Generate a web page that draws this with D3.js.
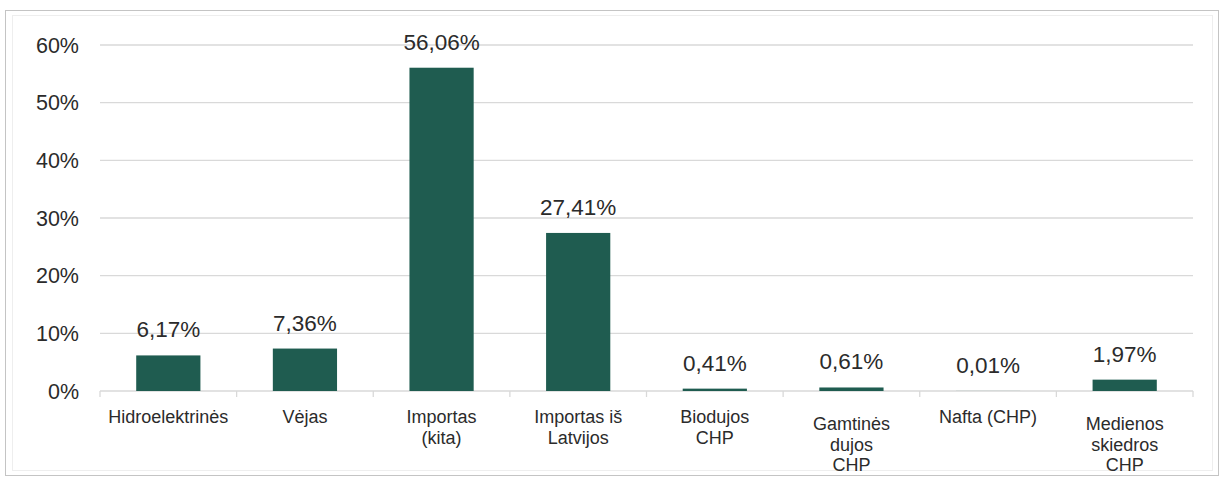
<!DOCTYPE html>
<html>
<head>
<meta charset="utf-8">
<script src="https://cdn.jsdelivr.net/npm/d3@7"></script>
<style>
  body { margin: 0; background: #fff; }
  svg { display: block; font-family: "Liberation Sans", Arial, sans-serif; }
</style>
</head>
<body>
<svg id="chart" width="1222" height="478"></svg>
<script>
// data
const categories = [
  ['Hidroelektrinės'],
  ['Vėjas'],
  ['Importas', '(kita)'],
  ['Importas iš', 'Latvijos'],
  ['Biodujos', 'CHP'],
  ['Gamtinės', 'dujos', 'CHP'],
  ['Nafta (CHP)'],
  ['Medienos', 'skiedros', 'CHP']
]
const shares = [6.17, 7.36, 56.06, 27.41, 0.41, 0.61, 0.01, 1.97]
const yTicks = [0, 10, 20, 30, 40, 50, 60]

const svg = d3.select('#chart')
const margin = {top: 45, right: 29, bottom: 87, left: 100}
const W = 1222, H = 478
const x0 = margin.left, x1 = W - margin.right
const yTop = margin.top, yBase = H - margin.bottom

const barColor = '#1f5c50'
const gridColor = '#d9d9d9'
const textColor = '#2b2b2b'

// frame round the chart
svg.append('rect')
  .attr('x', 5.5).attr('y', 10.5)
  .attr('width', 1213).attr('height', 465)
  .attr('fill', 'none').attr('stroke', '#c4c4c4')
svg.append('rect')
  .attr('x', 12.5).attr('y', 15.5)
  .attr('width', 1200).attr('height', 455)
  .attr('fill', 'none').attr('stroke', '#eeeeee')

const idx = d3.range(categories.length)
const xScale = d3.scaleBand().domain(idx).range([x0, x1]).paddingInner(0.53).paddingOuter(0.265)
const yScale = d3.scaleLinear().domain([0, 60]).range([yBase, yTop])
const xMid = i => xScale(i) + xScale.bandwidth() / 2

// gridlines
svg.append('g')
  .selectAll('line')
  .data(yTicks.filter(t => t > 0))
  .enter()
  .append('line')
    .attr('x1', x0).attr('x2', x1)
    .attr('y1', d => yScale(d)).attr('y2', d => yScale(d))
    .attr('stroke', gridColor).attr('stroke-width', 1.3)

// y axis labels
svg.append('g')
  .selectAll('text')
  .data(yTicks)
  .enter()
  .append('text')
    .attr('x', x0 - 21)
    .attr('y', d => yScale(d))
    .attr('dy', '0.35em')
    .attr('text-anchor', 'end')
    .style('font-size', '21.5px')
    .attr('fill', textColor)
    .text(d => d + '%')

// bottom axis line and ticks on band edges
svg.append('line')
  .attr('x1', x0).attr('x2', x1)
  .attr('y1', yBase).attr('y2', yBase)
  .attr('stroke', gridColor).attr('stroke-width', 1.3)
const step = xScale.step()
svg.append('g')
  .selectAll('line')
  .data(d3.range(categories.length + 1))
  .enter()
  .append('line')
    .attr('x1', d => x0 + d * step).attr('x2', d => x0 + d * step)
    .attr('y1', yBase).attr('y2', yBase + 6)
    .attr('stroke', gridColor).attr('stroke-width', 1.3)

// bars
svg.append('g')
  .selectAll('rect')
  .data(shares)
  .enter()
  .append('rect')
    .attr('x', (d, i) => xScale(i))
    .attr('y', d => yScale(d))
    .attr('width', xScale.bandwidth())
    .attr('height', d => yBase - yScale(d))
    .attr('fill', barColor)

// value labels
const fmt = v => v.toFixed(2).replace('.', ',') + '%'
svg.append('g')
  .selectAll('text')
  .data(shares)
  .enter()
  .append('text')
    .attr('x', (d, i) => xMid(i))
    .attr('y', d => yScale(d) - 18)
    .attr('text-anchor', 'middle')
    .style('font-size', '22.5px')
    .attr('fill', textColor)
    .text(fmt)

// category labels, one text per line (three-line ones sit a little lower, as in the original)
const catLines = categories.flatMap((lines, i) =>
  lines.map((t, j) => ({ t, i, y: yBase + 32 + (lines.length > 2 ? 7 : 0) + j * 20.5 })))
svg.append('g')
  .selectAll('text')
  .data(catLines)
  .enter()
  .append('text')
    .attr('x', d => xMid(d.i))
    .attr('y', d => d.y)
    .attr('text-anchor', 'middle')
    .style('font-size', '18px')
    .attr('fill', textColor)
    .text(d => d.t)
</script>
</body>
</html>
